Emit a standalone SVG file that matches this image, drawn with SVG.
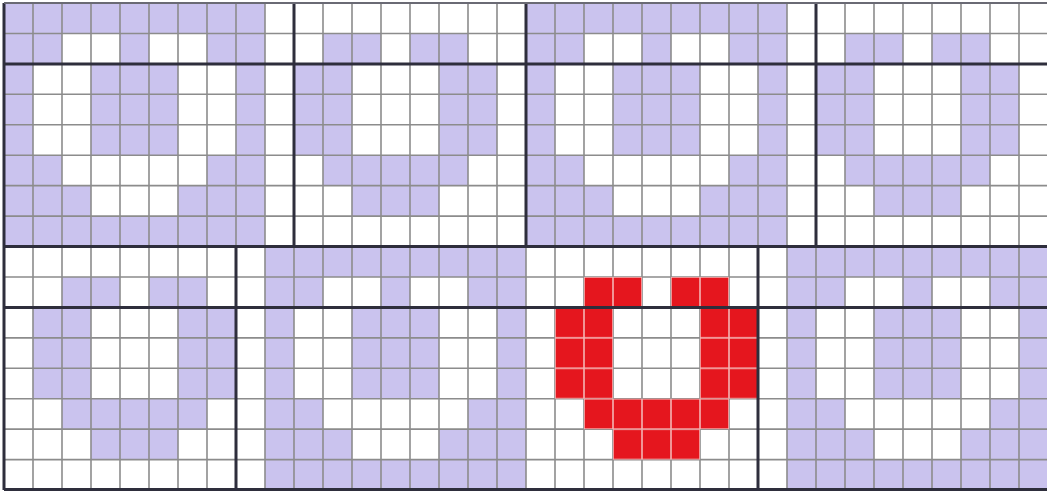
<svg xmlns="http://www.w3.org/2000/svg" width="1047" height="492" viewBox="0 0 1047 492">
<style>
.bg{fill:#ffffff}
.pur{fill:#cac3ee}
.thin{stroke:#8c8c8c;stroke-width:1.6;fill:none}
.thick{stroke:#2e2e3c;stroke-width:3;fill:none}
</style>
<defs>
<g id="u">
<rect x="29" y="0" width="58" height="30.44"/>
<rect x="116" y="0" width="58" height="30.44"/>
<rect x="0" y="30.44" width="58" height="91.32"/>
<rect x="145" y="30.44" width="58" height="91.32"/>
<rect x="29" y="121.76" width="145" height="30.44"/>
<rect x="58" y="152.2" width="87" height="30.44"/>
</g>
<pattern id="redcells" patternUnits="userSpaceOnUse" x="0" y="0" width="29" height="30.44">
<rect x="0" y="0" width="29" height="30.44" fill="#e5161e" stroke="#f4b3b3" stroke-width="1.6"/>
</pattern>
</defs>
<rect class="bg" x="0" y="0" width="1047" height="492"/>
<g id="top-block-1">
<rect class="pur" x="4" y="3" width="261" height="243.52"/>
<use href="#u" x="33" y="33.44" fill="#ffffff"/>
</g>
<g id="top-block-2">
<use href="#u" x="294" y="33.44" fill="#cac3ee"/>
</g>
<g id="top-block-3">
<rect class="pur" x="526" y="3" width="261" height="243.52"/>
<use href="#u" x="555" y="33.44" fill="#ffffff"/>
</g>
<g id="top-block-4">
<use href="#u" x="816" y="33.44" fill="#cac3ee"/>
</g>
<g id="bottom-block-1">
<use href="#u" x="33" y="276.96" fill="#cac3ee"/>
</g>
<g id="bottom-block-2">
<rect class="pur" x="265" y="246.52" width="261" height="243.52"/>
<use href="#u" x="294" y="276.96" fill="#ffffff"/>
</g>
<g id="bottom-block-4">
<rect class="pur" x="787" y="246.52" width="261" height="243.52"/>
<use href="#u" x="816" y="276.96" fill="#ffffff"/>
</g>
<g id="grid">
<path class="thin" d="M33 3V490M62 3V490M91 3V490M120 3V490M149 3V490M178 3V490M207 3V490M236 3V490M265 3V490M294 3V490M323 3V490M352 3V490M381 3V490M410 3V490M439 3V490M468 3V490M497 3V490M526 3V490M555 3V490M584 3V490M613 3V490M642 3V490M671 3V490M700 3V490M729 3V490M758 3V490M787 3V490M816 3V490M845 3V490M874 3V490M903 3V490M932 3V490M961 3V490M990 3V490M1019 3V490"/>
<path class="thin" d="M4 3H1047M4 33.44H1047M4 63.88H1047M4 94.32H1047M4 124.76H1047M4 155.2H1047M4 185.64H1047M4 216.08H1047M4 246.52H1047M4 276.96H1047M4 307.4H1047M4 337.84H1047M4 368.28H1047M4 398.72H1047M4 429.16H1047M4 459.6H1047"/>
</g>
<g id="bottom-block-3">
<use href="#u" x="555" y="276.96" fill="url(#redcells)"/>
</g>
<g id="frame">
<path class="thick" d="M4 63.88H1047M4 246.52H1047M4 307.4H1047M4 489.5H1047"/>
<path class="thick" d="M4 3V490M294 3V246.52M526 3V246.52M816 3V246.52M236 246.52V490M758 246.52V490"/>
<path stroke="#6a6a74" stroke-width="2" fill="none" d="M4 3H1047"/>
</g>
</svg>
